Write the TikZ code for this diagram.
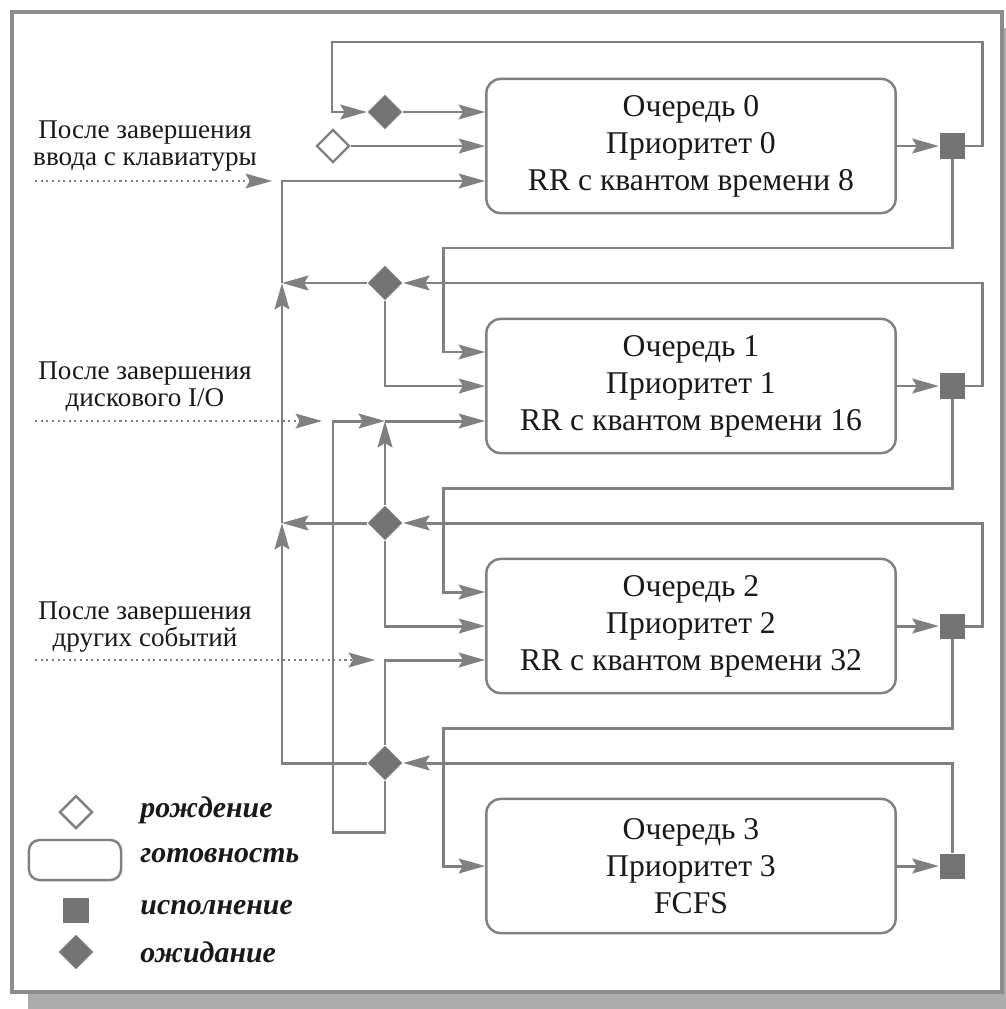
\documentclass[tikz,border=0pt]{standalone}
\usepackage{fontspec}
\setmainfont{Liberation Serif}
\usepackage{tikz}
\usetikzlibrary{arrows.meta,positioning,shapes.geometric}
\definecolor{linecol}{RGB}{128,128,128}
\definecolor{fillcol}{RGB}{116,116,116}
\definecolor{framecol}{RGB}{140,140,140}
\definecolor{shadowcol}{RGB}{172,172,172}
\definecolor{txtcol}{RGB}{25,25,25}

\begin{document}
\begin{tikzpicture}[x=0.01cm,y=-0.01cm,
   >={Stealth[length=7.5pt,width=4.2pt,inset=1.2pt]},
   conn/.style={linecol,line width=0.85pt},
   dots/.style={linecol,densely dotted,line width=0.6pt},
   queue/.style={draw=linecol,line width=0.7pt,rounded corners=4pt,
     minimum width=4.09cm,minimum height=1.34cm,align=center,text=txtcol,
     font=\fontsize{9}{10.5}\selectfont},
   run/.style={fill=fillcol,minimum size=0.25cm,inner sep=0pt},
   wait/.style={diamond,fill=fillcol,minimum width=0.35cm,minimum height=0.35cm,inner sep=0pt},
   birth/.style={diamond,draw=linecol,fill=white,line width=0.7pt,
     minimum width=0.33cm,minimum height=0.33cm,inner sep=0pt},
   event/.style={align=center,text=txtcol,font=\fontsize{7.7}{7.8}\selectfont},
   legtxt/.style={anchor=west,text=txtcol,font=\fontsize{8.5}{10}\selectfont\bfseries\itshape}]
  \useasboundingbox (0,0) rectangle (1006,1009);
  % ---------- frame with shadow ----------
  \fill[shadowcol] (28,28) rectangle (1006,1009);
  \draw[framecol,line width=0.9pt,fill=white] (12,12) rectangle (1002,992);

  % ---------- queues and run states ----------
  \node[queue] (q0) at (691,146) {Очередь 0\\Приоритет 0\\RR с квантом времени 8};
  \node[queue] (q1) at (691,386) {Очередь 1\\Приоритет 1\\RR с квантом времени 16};
  \node[queue] (q2) at (691,626) {Очередь 2\\Приоритет 2\\RR с квантом времени 32};
  \node[queue] (q3) at (691,866) {Очередь 3\\Приоритет 3\\FCFS};
  \node[run] (r0) at (952,146) {};
  \node[run] (r1) at (952,386) {};
  \node[run] (r2) at (952,626) {};
  \node[run] (r3) at (952,866) {};
  \foreach \i in {0,...,3}{\draw[conn,->] (q\i) -- (r\i);}

  % ---------- wait and birth states ----------
  \node[wait] (w0) at (385,112) {};
  \node[wait] (w1) at (385,283) {};
  \node[wait] (w2) at (385,523) {};
  \node[wait] (w3) at (385,763) {};
  \node[birth] (b0) at (333,146) {};

  % helper points
  \coordinate (top) at (332,42);
  \coordinate (bus) at (282,181);
  \coordinate (d1) at (443,352);
  \coordinate (d2) at (443,592);
  \coordinate (d3) at (443,866);
  \coordinate (m1) at (385,421);
  \coordinate (m2) at (385,660);
  \coordinate (loop) at (333,832);

  % ---------- queue 0 inputs ----------
  \draw[conn,->] (r0) -- ++(30,0) |- (top) |- (w0);
  \draw[conn,->] (w0) -- (w0 -| q0.west);
  \draw[conn,->] (b0) -- (b0 -| q0.west);
  \draw[conn,->] (w3) -| (w2 -| bus);
  \draw[conn,->] (w2 -| bus) -- (w1 -| bus);
  \draw[conn,->] (w1 -| bus) -- (bus) -- (bus -| q0.west);

  % ---------- demotion to lower queues ----------
  \draw[conn,->] (r0) -- ++(0,102) -| (d1) -- (d1 -| q1.west);
  \draw[conn,->] (r1) -- ++(0,102) -| (d2) -- (d2 -| q2.west);
  \draw[conn,->] (r2) -- ++(0,102) -| (d3) -- (q3.west);

  % ---------- into waiting ----------
  \draw[conn,->] (r1) -- ++(30,0) |- (w1);
  \draw[conn,->] (r2) -- ++(30,0) |- (w2);
  \draw[conn,->] (r3) |- (w3);

  % ---------- out of waiting ----------
  \draw[conn,->] (w1) -- (w1 -| bus);
  \draw[conn,->] (w2) -- (w2 -| bus);
  \draw[conn,->] (w1) |- (q1.west);
  \draw[conn,->] (w2) |- (q2.west);
  \draw[conn,->] (w2) -- (m1);
  \draw[conn,->] (w3) |- (loop) |- (m1);
  \draw[conn,->] (m1) -- (m1 -| q1.west);
  \draw[conn,->] (w3) -- (m2) -- (m2 -| q2.west);

  % ---------- events ----------
  \node[event] (ev0) at (145,146) {После завершения\\ввода с клавиатуры};
  \node[event] (ev1) at (145,387) {После завершения\\дискового I/O};
  \node[event] (ev2) at (145,627) {После завершения\\других событий};
  \coordinate (s0) at (35,181);  \coordinate (e0) at (272,181);
  \coordinate (s1) at (35,421);  \coordinate (e1) at (322,421);
  \coordinate (s2) at (35,660);  \coordinate (e2) at (375,660);
  \foreach \i in {0,1,2}{\draw[dots,->] (s\i) -- (e\i);}

  % ---------- legend ----------
  \node[birth] (lb) at (76,812) {};
  \node[draw=linecol,line width=0.7pt,rounded corners=3pt,minimum width=0.92cm,
    minimum height=0.4cm] (lq) at (75,860) {};
  \node[run] (lr) at (76,910) {};
  \node[wait] (lw) at (76,952) {};
  \node[legtxt] (lbt) at (128,810) {рождение};
  \node[legtxt] (lqt) at (128,856) {готовность};
  \node[legtxt] (lrt) at (128,908) {исполнение};
  \node[legtxt] (lwt) at (128,952) {ожидание};
\end{tikzpicture}
\end{document}
